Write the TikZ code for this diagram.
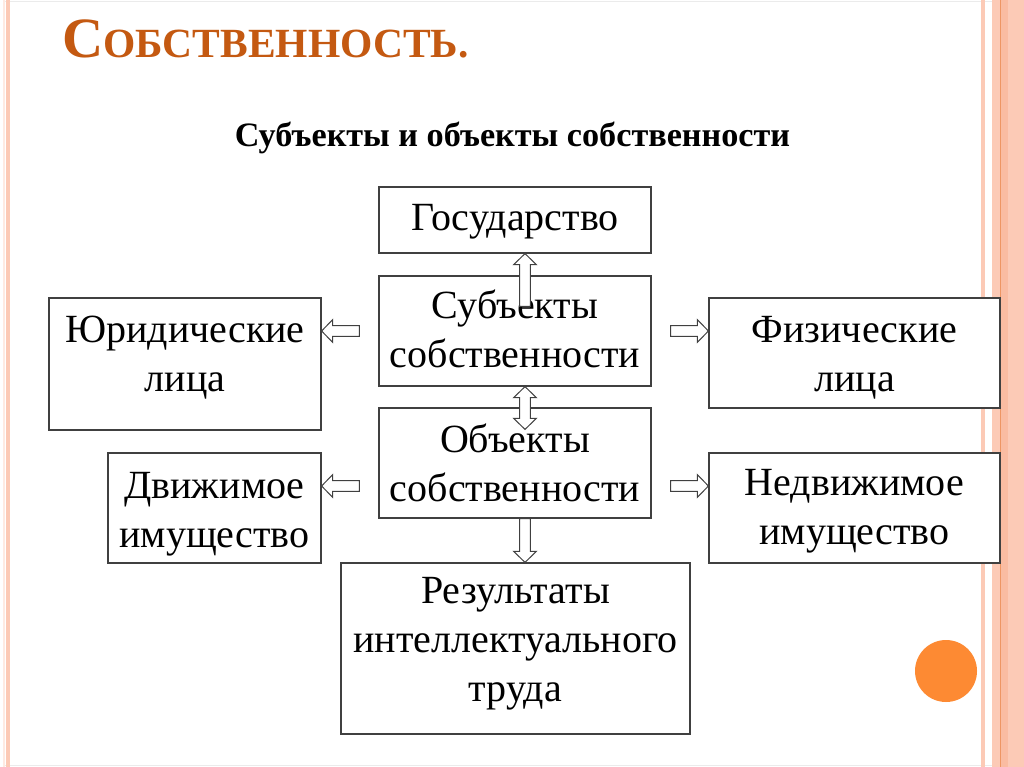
\documentclass[tikz,border=0pt]{standalone}
\usepackage{fontspec}
\setmainfont{Liberation Serif}
\usetikzlibrary{calc}
\definecolor{titlec}{RGB}{196,89,17}
\definecolor{peach}{RGB}{252,202,182}
\definecolor{peachd}{RGB}{250,188,162}
\definecolor{peachline}{RGB}{238,150,100}
\definecolor{dotc}{RGB}{253,138,51}
\definecolor{edgec}{RGB}{64,64,64}
\definecolor{framec}{RGB}{235,235,235}

\newcommand\btxt[4]{\parbox[c][#1pt][t]{#2pt}{\centering\rule{0pt}{#3pt}#4}}

% single block arrow from #2 to #3
\newcommand\blockarrow[3][]{%
  \draw[barrow,#1] let \p1=(#2),\p2=(#3),
     \n1={veclen(\x2-\x1,\y2-\y1)}, \n2={(\x2-\x1)/\n1}, \n3={(\y2-\y1)/\n1}, \n4={\n1-11}
   in ({\x1+5.3*\n3},{\y1-5.3*\n2})
   -- ({\x1+\n4*\n2+5.3*\n3},{\y1+\n4*\n3-5.3*\n2})
   -- ({\x1+\n4*\n2+11.3*\n3},{\y1+\n4*\n3-11.3*\n2})
   -- ({\x1+\n1*\n2},{\y1+\n1*\n3})
   -- ({\x1+\n4*\n2-11.3*\n3},{\y1+\n4*\n3+11.3*\n2})
   -- ({\x1+\n4*\n2-5.3*\n3},{\y1+\n4*\n3+5.3*\n2})
   -- ({\x1-5.3*\n3},{\y1+5.3*\n2}) -- cycle;}

% double block arrow between #2 and #3
\newcommand\dblockarrow[3][]{%
  \draw[barrow,#1] let \p1=(#2),\p2=(#3),
     \n1={veclen(\x2-\x1,\y2-\y1)}, \n2={(\x2-\x1)/\n1}, \n3={(\y2-\y1)/\n1}, \n4={\n1-11}
   in (\x1,\y1)
   -- ({\x1+11*\n2+11.3*\n3},{\y1+11*\n3-11.3*\n2})
   -- ({\x1+11*\n2+5.3*\n3},{\y1+11*\n3-5.3*\n2})
   -- ({\x1+\n4*\n2+5.3*\n3},{\y1+\n4*\n3-5.3*\n2})
   -- ({\x1+\n4*\n2+11.3*\n3},{\y1+\n4*\n3-11.3*\n2})
   -- ({\x1+\n1*\n2},{\y1+\n1*\n3})
   -- ({\x1+\n4*\n2-11.3*\n3},{\y1+\n4*\n3+11.3*\n2})
   -- ({\x1+\n4*\n2-5.3*\n3},{\y1+\n4*\n3+5.3*\n2})
   -- ({\x1+11*\n2-5.3*\n3},{\y1+11*\n3+5.3*\n2})
   -- ({\x1+11*\n2-11.3*\n3},{\y1+11*\n3+11.3*\n2})
   -- cycle;}

\begin{document}
\begin{tikzpicture}[x=1pt,y=-1pt,
  box/.style={draw=edgec,line width=1.2pt,fill=white,inner sep=0pt,
    font=\fontsize{40}{49}\selectfont},
  barrow/.style={draw=edgec,line width=1pt,fill=white,line join=miter},
  ttl/.style={text=titlec,font=\bfseries,inner sep=0pt},
  sub/.style={font=\fontsize{34.2}{40}\selectfont\bfseries,inner sep=0pt}]
\useasboundingbox (0,0) rectangle (1024,767);
\fill[white] (0,0) rectangle (1024,767);
% frame decoration
\draw[framec,line width=0.8pt] (3,1) -- (1024,1);
\draw[framec,line width=0.8pt] (3,765) -- (1024,765);
\fill[peach!40] (3,0) rectangle (5,767);
\fill[peach] (6,0) rectangle (10,767);
\fill[peach] (981,0) rectangle (985,767);
\fill[peach] (992,0) rectangle (1024,767);
\fill[peachd] (1001,0) rectangle (1008,767);
\draw[peachline,line width=1pt] (1000,0) -- (1000,767);
% orange dot
\fill[dotc] (946,671) circle[radius=31];

% title
\node[ttl,anchor=base west] (title) at (62,58)
  {{\fontsize{57}{60}\selectfont С}{\fontsize{41.5}{48}\selectfont ОБСТВЕННОСТЬ.}};
\node[sub,anchor=base] (subtitle) at (512.5,147) {Субъекты и объекты собственности};

% boxes
\node[box] (gos)   at (515,220)   {\btxt{66}{272}{43}{Государство}};
\node[box] (subj)  at (515,331)   {\btxt{110}{272}{42}{Субъекты\\собственности}};
\node[box] (obj)   at (515,463)   {\btxt{110}{272}{44}{Объекты\\собственности}};
\node[box] (jur)   at (185,364)   {\btxt{132}{272}{44}{Юридические\\лица}};
\node[box] (dvizh) at (214.5,508) {\btxt{110}{213}{45}{Движимое\\имущество}};
\node[box] (fiz)   at (854.5,353) {\btxt{110}{291}{44}{Физические\\лица}};
\node[box] (nedv)  at (854.5,508) {\btxt{110}{291}{42}{Недвижимое\\имущество}};
\node[box] (res)   at (515.5,648.5) {\btxt{171}{349}{40}{Результаты\\интеллектуального\\труда}};

% connector end points
\coordinate (upS) at ($(subj.north)+(10,31)$);
\coordinate (upE) at ($(gos.south)+(10,0)$);
\coordinate (dbS) at ($(subj.south)+(10,0)$);
\coordinate (dbE) at ($(obj.north)+(10,22)$);
\coordinate (dnS) at ($(obj.south)+(10,0)$);
\coordinate (dnE) at ($(res.north)+(9.5,0)$);
\coordinate (l1S) at ($(subj.west)+(-19,0)$);
\coordinate (l1E) at (l1S -| jur.east);
\coordinate (l2S) at ($(obj.west)+(-19,23)$);
\coordinate (l2E) at (l2S -| dvizh.east);
\coordinate (r1S) at ($(subj.east)+(19,0)$);
\coordinate (r1E) at (r1S -| fiz.west);
\coordinate (r2S) at ($(obj.east)+(19,23)$);
\coordinate (r2E) at (r2S -| nedv.west);

% block arrows
\blockarrow{upS}{upE}
\dblockarrow{dbS}{dbE}
\blockarrow{dnS}{dnE}
\blockarrow{l1S}{l1E}
\blockarrow{l2S}{l2E}
\blockarrow{r1S}{r1E}
\blockarrow{r2S}{r2E}
\end{tikzpicture}
\end{document}
